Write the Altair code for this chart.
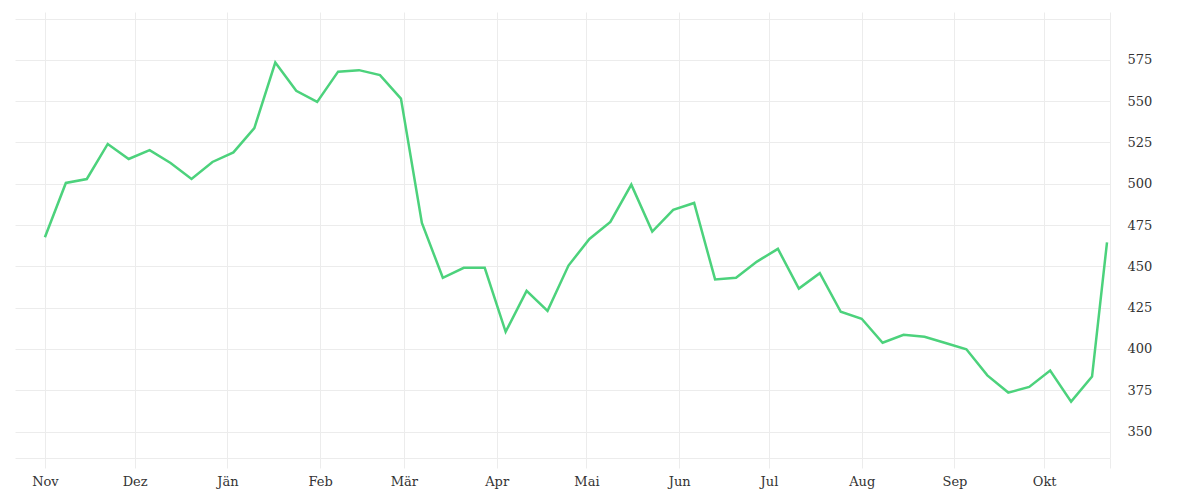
import altair as alt
import pandas as pd

dates = [
    "2022-11-01", "2022-11-08", "2022-11-15", "2022-11-22", "2022-11-29",
    "2022-12-06", "2022-12-13", "2022-12-20", "2022-12-27",
    "2023-01-03", "2023-01-10", "2023-01-17", "2023-01-24", "2023-01-31",
    "2023-02-07", "2023-02-14", "2023-02-21", "2023-02-28",
    "2023-03-07", "2023-03-14", "2023-03-21", "2023-03-28",
    "2023-04-04", "2023-04-11", "2023-04-18", "2023-04-25",
    "2023-05-02", "2023-05-09", "2023-05-16", "2023-05-23", "2023-05-30",
    "2023-06-06", "2023-06-13", "2023-06-20", "2023-06-27",
    "2023-07-04", "2023-07-11", "2023-07-18", "2023-07-25",
    "2023-08-01", "2023-08-08", "2023-08-15", "2023-08-22", "2023-08-29",
    "2023-09-05", "2023-09-12", "2023-09-19", "2023-09-26",
    "2023-10-03", "2023-10-10", "2023-10-17", "2023-10-22",
]
values = [
    467.6, 500.5, 502.9, 524.1, 515.0,
    520.4, 512.6, 502.9, 513.2,
    519.0, 533.7, 573.4, 556.3, 549.6,
    567.9, 568.8, 565.8, 551.6,
    476.3, 443.1, 449.1, 449.1,
    410.4, 435.2, 423.1, 450.5,
    466.6, 476.9, 499.5, 471.1, 484.2,
    488.4, 442.1, 443.1, 452.9,
    460.6, 436.6, 445.9, 422.5,
    418.3, 403.8, 408.6, 407.4, 403.6,
    399.8, 384.0, 373.6, 377.0,
    386.9, 368.1, 383.3, 464.6,
]
y_ticks = [350, 375, 400, 425, 450, 475, 500, 525, 550, 575, 600]
month_names = ["Jän", "Feb", "Mär", "Apr", "Mai", "Jun", "Jul", "Aug", "Sep", "Okt", "Nov", "Dez"]

df = pd.DataFrame({"date": [d + "T00:00:00" for d in dates], "value": values})

x_tick_values = [
    alt.DateTime(year=2022, month=11, date=1),
    alt.DateTime(year=2022, month=12, date=1),
    alt.DateTime(year=2023, month=1, date=1),
    alt.DateTime(year=2023, month=2, date=1),
    alt.DateTime(year=2023, month=3, date=1),
    alt.DateTime(year=2023, month=4, date=1),
    alt.DateTime(year=2023, month=5, date=1),
    alt.DateTime(year=2023, month=6, date=1),
    alt.DateTime(year=2023, month=7, date=1),
    alt.DateTime(year=2023, month=8, date=1),
    alt.DateTime(year=2023, month=9, date=1),
    alt.DateTime(year=2023, month=10, date=1),
    alt.DateTime(year=2023, month=10, date=23),
]

names_js = "[" + ",".join("'" + m + "'" for m in month_names) + "]"
label_expr = f"date(datum.value) == 1 ? {names_js}[month(datum.value)] : ''"

grid_color = "#ececec"
font = "DejaVu Serif"

chart = (
    alt.Chart(df)
    .mark_line(color="#4cd27c", strokeWidth=2.5)
    .encode(
        x=alt.X(
            "date:T",
            scale=alt.Scale(
                domain=[
                    alt.DateTime(year=2022, month=10, date=22),
                    alt.DateTime(year=2023, month=10, date=23),
                ],
                nice=False,
            ),
            axis=alt.Axis(
                title=None,
                values=x_tick_values,
                labelExpr=label_expr,
                grid=True,
                gridColor=grid_color,
                tickColor=grid_color,
                tickSize=10,
                domainColor=grid_color,
                labelPadding=7,
                labelOverlap=False,
            ),
        ),
        y=alt.Y(
            "value:Q",
            scale=alt.Scale(domain=[334, 604], nice=False, zero=False),
            axis=alt.Axis(
                title=None,
                orient="right",
                values=y_ticks,
                labelExpr="datum.value == 600 ? '' : datum.label",
                grid=True,
                gridColor=grid_color,
                ticks=False,
                domain=False,
                labelPadding=17,
                labelOverlap=False,
            ),
        ),
    )
    .properties(
        width=1095,
        height=446,
        padding={"left": 7, "top": 4, "right": 5, "bottom": 5},
    )
    .configure(font=font)
    .configure_axis(labelFont=font, labelFontSize=13, labelColor="#333333")
    .configure_view(stroke=None)
)

chart.save("out.html", embed_options={"renderer": "svg", "actions": False})
